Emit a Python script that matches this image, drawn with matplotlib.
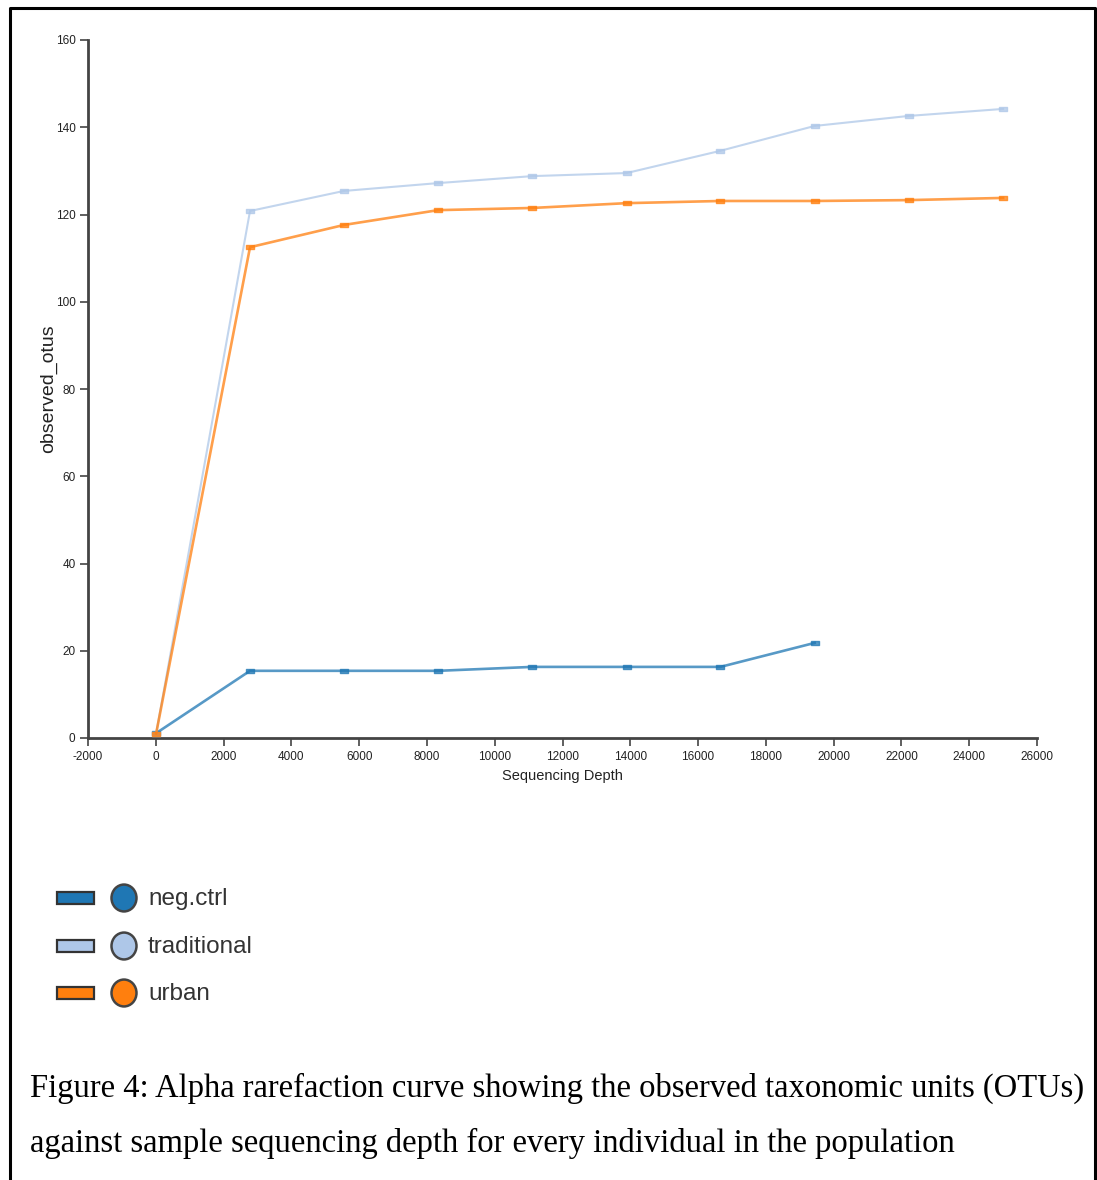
import matplotlib
matplotlib.use("Agg")
import matplotlib.pyplot as plt
from matplotlib.patches import Rectangle, Circle
from matplotlib.path import Path
from matplotlib.lines import Line2D

# ---------------- data ----------------
depth = [10, 2780, 5550, 8330, 11110, 13890, 16660, 19440, 22220, 25000]
neg_ctrl = [1.1, 15.4, 15.4, 15.4, 16.3, 16.3, 16.3, 21.8]
traditional = [1.0, 120.8, 125.4, 127.2, 128.8, 129.5, 134.6, 140.3, 142.6, 144.2]
urban = [1.0, 112.5, 117.6, 121.0, 121.5, 122.6, 123.1, 123.1, 123.3, 123.8]
series_names = ["neg.ctrl", "traditional", "urban"]
series_colors = ["#1f77b4", "#aec7e8", "#ff7f0e"]
xticks = list(range(-2000, 26001, 2000))
yticks = list(range(0, 161, 20))
caption = ["Figure 4: Alpha rarefaction curve showing the observed taxonomic units (OTUs)",
           "against sample sequencing depth for every individual in the population"]

W, H = 1097, 1180
fig = plt.figure(figsize=(W / 100, H / 100), dpi=100)
fig.patch.set_facecolor("white")

def fx(px):
    return px / W

def fy(py):
    return 1 - py / H

ax = fig.add_axes([fx(88), fy(738), fx(1037) - fx(88), fy(40) - fy(738)])
ax.set_xlim(-2000, 26000)
ax.set_ylim(0, 160)

sans = ["Liberation Sans", "DejaVu Sans"]

rect_marker = Path([(-1, -0.55), (1, -0.55), (1, 0.55), (-1, 0.55), (-1, -0.55)],
                   [Path.MOVETO, Path.LINETO, Path.LINETO, Path.LINETO, Path.CLOSEPOLY])

ys = [neg_ctrl, traditional, urban]
lws = [1.9, 1.5, 1.9]
for name, yv, col, lw in zip(series_names, ys, series_colors, lws):
    ax.plot(depth[:len(yv)], yv, color=col, lw=lw, alpha=0.75,
            marker=rect_marker, markersize=6, markerfacecolor=col,
            markeredgecolor=col, markeredgewidth=1.0, zorder=3)

for s in ["top", "right"]:
    ax.spines[s].set_visible(False)
for s in ["left", "bottom"]:
    ax.spines[s].set_color("#444444")
    ax.spines[s].set_linewidth(2.0)

ax.set_xticks(xticks)
ax.set_yticks(yticks)
ax.set_xticklabels([str(t) if t >= 0 else "-" + str(-t) for t in xticks],
                   family=sans, fontsize=8.5, color="#222222")
ax.set_yticklabels([str(t) for t in yticks], family=sans, fontsize=8.5, color="#222222")
ax.tick_params(axis="both", direction="out", length=6, width=1.2, color="#444444", pad=3)

ax.set_xlabel("Sequencing Depth", family=sans, fontsize=10.5, color="#222222", labelpad=5)
fig.text(fx(49), fy(389), "observed_otus", rotation=90, ha="center", va="center",
         family=sans, fontsize=14, color="#222222")

# ---------------- legend ----------------
row_y = [898, 946, 993]
for name, col, py in zip(series_names, series_colors, row_y):
    fig.patches.append(Rectangle((fx(57), fy(py + 6)), fx(94) - fx(57), 12 / H,
                                 transform=fig.transFigure, facecolor=col,
                                 edgecolor="#333333", lw=1.6))
    fig.patches.append(Circle((fx(124), fy(py)), 12.5 / W, transform=fig.transFigure,
                              facecolor=col, edgecolor="#444444", lw=1.8))
    fig.text(fx(148), fy(py + 1), name, ha="left", va="center",
             family=sans, fontsize=17.5, color="#333333")

# ---------------- caption ----------------
serif = ["Liberation Serif", "DejaVu Serif"]
fig.text(fx(30), fy(1097), caption[0], ha="left", va="baseline",
         family=serif, fontsize=23.5, color="black")
fig.text(fx(30), fy(1152), caption[1], ha="left", va="baseline",
         family=serif, fontsize=23.5, color="black")

# ---------------- frame ----------------
fig.lines.append(Line2D([fx(10), fx(10), fx(1095), fx(1095)],
                        [fy(1200), fy(8), fy(8), fy(1200)],
                        transform=fig.transFigure, color="black", lw=2.2))

fig.savefig("out.png", dpi=100)
